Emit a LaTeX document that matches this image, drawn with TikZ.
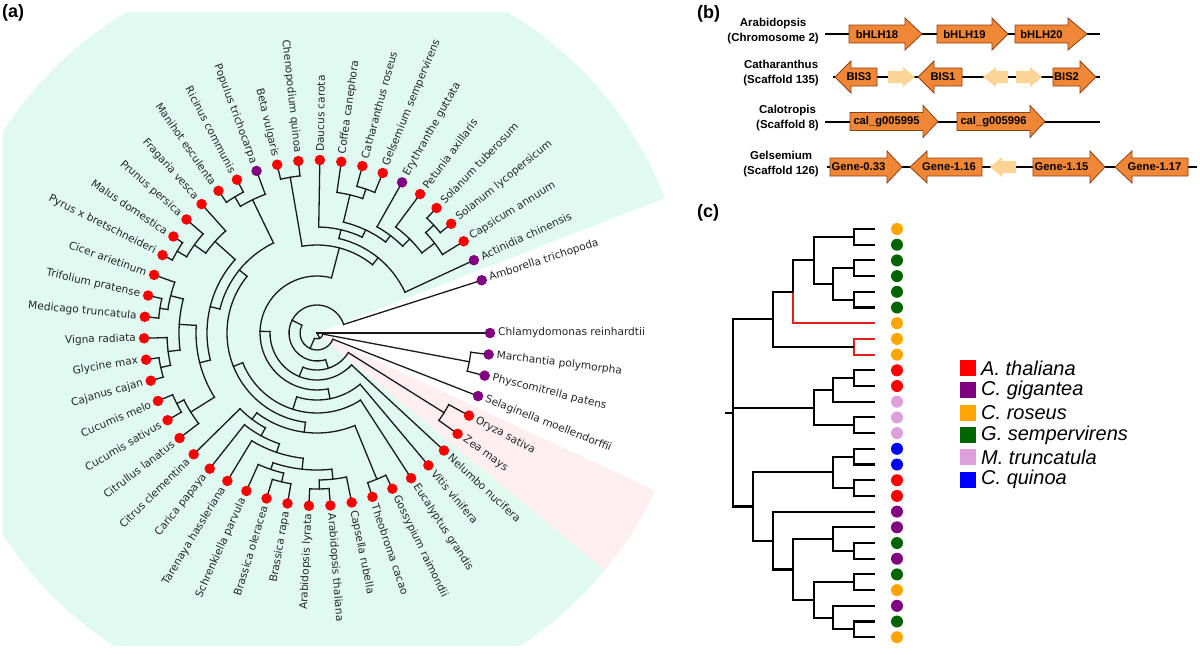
\documentclass[tikz,border=0pt]{standalone}
\usepackage{fontspec}
\setmainfont{Liberation Sans}
\newfontfamily\treefont{DejaVu Sans}
\definecolor{mint}{RGB}{224,250,242}
\definecolor{pinkbg}{RGB}{253,238,239}
\definecolor{dred}{RGB}{250,0,0}
\definecolor{dpur}{RGB}{128,0,128}
\definecolor{geneorange}{RGB}{240,135,55}
\definecolor{geneedge}{RGB}{140,65,20}
\definecolor{genelight}{RGB}{252,213,150}
\definecolor{cred}{RGB}{255,0,0}
\definecolor{cpur}{RGB}{128,0,128}
\definecolor{corange}{RGB}{255,165,0}
\definecolor{cgreen}{RGB}{0,100,0}
\definecolor{cplum}{RGB}{221,160,221}
\definecolor{cblue}{RGB}{0,0,255}
\definecolor{branchred}{RGB}{228,30,30}
\tikzset{
  branch/.style={line width=1.3pt, black!90, line cap=rect},
  leafdot/.style={circle, inner sep=0pt, minimum size=10.5pt, draw=none},
  leaftext/.style={font=\treefont\fontsize{10.6}{12}\selectfont, inner sep=0pt, text=black!85},
  cbranch/.style={line width=2.1pt, black},
  cdot/.style={circle, inner sep=0pt, minimum size=12pt, draw=none},
  genelabel/.style={font=\bfseries\fontsize{11.2}{13}\selectfont, inner sep=0pt},
  rowlabel/.style={font=\bfseries\fontsize{11.5}{15}\selectfont, inner sep=0pt, align=center, anchor=east},
  panellabel/.style={font=\bfseries\fontsize{18}{20}\selectfont, inner sep=0pt, anchor=west},
  legsq/.style={minimum size=16pt, inner sep=0pt, draw=none},
  legtext/.style={font=\itshape\fontsize{20}{22}\selectfont, inner sep=0pt, anchor=west},
  gline/.style={line width=2pt, black}
}
% circular tree helpers
\newcommand\tn[3]{\coordinate (#1) at ({-7.13*(#2)}:#3);}
\newcommand\jn[5]{%
  \draw[branch] ({-7.13*(#2)}:#1) arc[start angle={-7.13*(#2)}, end angle={-7.13*(#3)}, radius=#1pt];
  \draw[branch] ({-7.13*(#2)}:#1) -- (#4);
  \draw[branch] ({-7.13*(#3)}:#1) -- (#5);}
\newcommand\leafR[4]{%
  \node[leafdot, fill=#3] (#1) at ({-7.13*(#2)}:173) {};
  \node[leaftext, anchor=west, rotate={-7.13*(#2)}] (#1t) at ({-7.13*(#2)}:181) {#4};}
\newcommand\leafL[4]{%
  \node[leafdot, fill=#3] (#1) at ({-7.13*(#2)}:173) {};
  \node[leaftext, anchor=east, rotate={-7.13*(#2)+180}] (#1t) at ({-7.13*(#2)}:181) {#4};}
% gene arrows
\newcommand\garR[6]{% name x0 xb x1 y text
  \draw[geneedge, fill=geneorange, line width=0.8pt, line join=miter]
    ({#2},{#5-9}) -- ({#3},{#5-9}) -- ({#3},{#5-16}) -- ({#4},{#5}) -- ({#3},{#5+16}) -- ({#3},{#5+9}) -- ({#2},{#5+9}) -- cycle;
  \node[genelabel] (#1) at ({(#2+#3)/2},{#5}) {#6};}
\newcommand\garL[6]{% name tip xb x0 y text
  \draw[geneedge, fill=geneorange, line width=0.8pt, line join=miter]
    ({#4},{#5-9}) -- ({#3},{#5-9}) -- ({#3},{#5-16}) -- ({#2},{#5}) -- ({#3},{#5+16}) -- ({#3},{#5+9}) -- ({#4},{#5+9}) -- cycle;
  \node[genelabel] (#1) at ({(#2+#4)/2+3},{#5}) {#6};}
\newcommand\lar[4]{% x0 xb x1 y (direction given by order)
  \fill[genelight] ({#1},{#4-6}) -- ({#2},{#4-6}) -- ({#2},{#4-10}) -- ({#3},{#4}) -- ({#2},{#4+10}) -- ({#2},{#4+6}) -- ({#1},{#4+6}) -- cycle;}
\begin{document}
\begin{tikzpicture}[x=1pt, y=-1pt]
\useasboundingbox (0,0) rectangle (1200,654);
\fill[white] (0,0) rectangle (1200,654);
% ---------------- panel (a) ----------------
\begin{scope}
  \clip (3,12) rectangle (705,645);
  \begin{scope}[shift={(317pt,-333pt)}, y=1pt]
    \fill[mint] (0,0) -- (21.2:373) arc[start angle=21.2, end angle=320.5, radius=373pt] -- cycle;
    \fill[pinkbg] (0,0) -- (-39.5:373) arc[start angle=-39.5, end angle=-25, radius=373pt] -- cycle;
  \end{scope}
\end{scope}
\node[panellabel] (la) at (2,13) {(a)};
\begin{scope}[shift={(317pt,-333pt)}, y=1pt]
  \leafR{L0}{0}{dpur}{Chlamydomonas reinhardtii}
  \leafR{L1}{1}{dpur}{Marchantia polymorpha}
  \leafR{L2}{2}{dpur}{Physcomitrella patens}
  \leafR{L3}{3}{dpur}{Selaginella moellendorffii}
  \leafR{L4}{4}{dred}{Oryza sativa}
  \leafR{L5}{5}{dred}{Zea mays}
  \leafR{L6}{6}{dred}{Nelumbo nucifera}
  \leafR{L7}{7}{dred}{Vitis vinifera}
  \leafR{L8}{8}{dred}{Eucalyptus grandis}
  \leafR{L9}{9}{dred}{Gossypium raimondii}
  \leafR{L10}{10}{dred}{Theobroma cacao}
  \leafR{L11}{11}{dred}{Capsella rubella}
  \leafR{L12}{12}{dred}{Arabidopsis thaliana}
  \leafL{L13}{13}{dred}{Arabidopsis lyrata}
  \leafL{L14}{14}{dred}{Brassica rapa}
  \leafL{L15}{15}{dred}{Brassica oleracea}
  \leafL{L16}{16}{dred}{Schrenkiella parvula}
  \leafL{L17}{17}{dred}{Tarenaya hassleriana}
  \leafL{L18}{18}{dred}{Carica papaya}
  \leafL{L19}{19}{dred}{Citrus clementina}
  \leafL{L20}{20}{dred}{Citrullus lanatus}
  \leafL{L21}{21}{dred}{Cucumis sativus}
  \leafL{L22}{22}{dred}{Cucumis melo}
  \leafL{L23}{23}{dred}{Cajanus cajan}
  \leafL{L24}{24}{dred}{Glycine max}
  \leafL{L25}{25}{dred}{Vigna radiata}
  \leafL{L26}{26}{dred}{Medicago truncatula}
  \leafL{L27}{27}{dred}{Trifolium pratense}
  \leafL{L28}{28}{dred}{Cicer arietinum}
  \leafL{L29}{29}{dred}{Pyrus x bretschneideri}
  \leafL{L30}{30}{dred}{Malus domestica}
  \leafL{L31}{31}{dred}{Prunus persica}
  \leafL{L32}{32}{dred}{Fragaria vesca}
  \leafL{L33}{33}{dred}{Manihot esculenta}
  \leafL{L34}{34}{dred}{Ricinus communis}
  \leafL{L35}{35}{dpur}{Populus trichocarpa}
  \leafL{L36}{36}{dred}{Beta vulgaris}
  \leafL{L37}{37}{dred}{Chenopodium quinoa}
  \leafR{L38}{38}{dred}{Daucus carota}
  \leafR{L39}{39}{dred}{Coffea canephora}
  \leafR{L40}{40}{dred}{Catharanthus roseus}
  \leafR{L41}{41}{dred}{Gelsemium sempervirens}
  \leafR{L42}{42}{dpur}{Erythranthe guttata}
  \leafR{L43}{43}{dred}{Petunia axillaris}
  \leafR{L44}{44}{dred}{Solanum tuberosum}
  \leafR{L45}{45}{dred}{Solanum lycopersicum}
  \leafR{L46}{46}{dred}{Capsicum annuum}
  \leafR{L47}{47}{dpur}{Actinidia chinensis}
  \leafR{L48}{48}{dpur}{Amborella trichopoda}
  % internal nodes
  \coordinate (Root) at (0,0);
  \tn{Emb}{8.77}{6}
  \tn{Bryo}{1.5}{155}
  \tn{Trach}{16.03}{17}
  \tn{Angio}{29.06}{28}
  \tn{Meso}{10.12}{37}
  \tn{Mono}{4.5}{150}
  \tn{Eud}{15.75}{47}
  \tn{Core}{25.49}{57}
  \tn{VR}{11.05}{67}
  \tn{Ros}{15.09}{80}
  \tn{RR}{22.19}{90}
  \tn{Malv}{13.656}{100}
  \tn{Malvales}{9.5}{158}
  \tn{SB}{17.8125}{108}
  \tn{Bra}{16.625}{117}
  \tn{BraT}{15.25}{126}
  \tn{Brass}{13.5}{137}
  \tn{Cap}{11.75}{147}
  \tn{AR}{12.5}{156}
  \tn{Bras}{15.25}{144}
  \tn{BB}{14.5}{153}
  \tn{Fab}{30.72}{100}
  \tn{FabA}{27.19}{110}
  \tn{CL}{23.25}{121}
  \tn{Cuc}{20.75}{149}
  \tn{CucA}{21.5}{157}
  \tn{Leg}{25.75}{138}
  \tn{LegA}{24.25}{150}
  \tn{LegAA}{23.5}{160}
  \tn{LegB}{27.25}{151}
  \tn{LegBB}{26.5}{159}
  \tn{Rosa}{31.125}{137}
  \tn{RosaA}{30.25}{151}
  \tn{RosaAA}{29.5}{162}
  \tn{Malp}{34.25}{148}
  \tn{MalpA}{33.5}{159}
  \tn{CaAs}{39.93}{88}
  \tn{Caryo}{36.5}{158}
  \tn{Ast}{43.35}{97}
  \tn{CoreAst}{39.7}{106}
  \tn{Lam}{41.41}{114}
  \tn{Gent}{39.75}{142}
  \tn{GentA}{40.5}{152}
  \tn{LamS}{43.06}{122}
  \tn{Sol}{44.125}{132}
  \tn{SolA}{45.25}{148}
  \tn{SolAA}{44.5}{159}
  % branches
  \draw[branch] (Root) -- (L0);
  \draw[branch] (Root) -- (Emb);
  \jn{6}{1.5}{16.03}{Bryo}{Trach}
  \jn{155}{1}{2}{L1}{L2}
  \jn{17}{3}{29.06}{L3}{Angio}
  \jn{28}{10.12}{48}{Meso}{L48}
  \jn{37}{4.5}{15.75}{Mono}{Eud}
  \jn{150}{4}{5}{L4}{L5}
  \jn{47}{6}{25.49}{L6}{Core}
  \jn{57}{11.05}{39.93}{VR}{CaAs}
  \jn{67}{7}{15.09}{L7}{Ros}
  \jn{80}{8}{22.19}{L8}{RR}
  \jn{90}{13.656}{30.72}{Malv}{Fab}
  \jn{100}{9.5}{17.8125}{Malvales}{SB}
  \jn{158}{9}{10}{L9}{L10}
  \jn{108}{16.625}{19}{Bra}{L19}
  \jn{117}{15.25}{18}{BraT}{L18}
  \jn{126}{13.5}{17}{Brass}{L17}
  \jn{137}{11.75}{15.25}{Cap}{Bras}
  \jn{147}{11}{12.5}{L11}{AR}
  \jn{156}{12}{13}{L12}{L13}
  \jn{144}{14.5}{16}{BB}{L16}
  \jn{153}{14}{15}{L14}{L15}
  \jn{100}{27.19}{34.25}{FabA}{Malp}
  \jn{110}{23.25}{31.125}{CL}{Rosa}
  \jn{121}{20.75}{25.75}{Cuc}{Leg}
  \jn{149}{20}{21.5}{L20}{CucA}
  \jn{157}{21}{22}{L21}{L22}
  \jn{138}{24.25}{27.25}{LegA}{LegB}
  \jn{150}{23.5}{25}{LegAA}{L25}
  \jn{160}{23}{24}{L23}{L24}
  \jn{151}{26.5}{28}{LegBB}{L28}
  \jn{159}{26}{27}{L26}{L27}
  \jn{137}{30.25}{32}{RosaA}{L32}
  \jn{151}{29.5}{31}{RosaAA}{L31}
  \jn{162}{29}{30}{L29}{L30}
  \jn{148}{33.5}{35}{MalpA}{L35}
  \jn{159}{33}{34}{L33}{L34}
  \jn{88}{36.5}{43.35}{Caryo}{Ast}
  \jn{158}{36}{37}{L36}{L37}
  \jn{97}{39.7}{47}{CoreAst}{L47}
  \jn{106}{38}{41.41}{L38}{Lam}
  \jn{114}{39.75}{43.06}{Gent}{LamS}
  \jn{142}{39}{40.5}{L39}{GentA}
  \jn{152}{40}{41}{L40}{L41}
  \jn{122}{42}{44.125}{L42}{Sol}
  \jn{132}{43}{45.25}{L43}{SolA}
  \jn{148}{44.5}{46}{SolAA}{L46}
  \jn{159}{44}{45}{L44}{L45}
\end{scope}
% ---------------- panel (b) ----------------
\node[panellabel] (lb) at (697,14) {(b)};
\node[rowlabel] (r1) at (819,31) {Arabidopsis\\(Chromosome 2)};
\node[rowlabel] (r2) at (819,73) {Catharanthus\\(Scaffold 135)};
\node[rowlabel] (r3) at (819,118) {Calotropis\\(Scaffold 8)};
\node[rowlabel] (r4) at (819,164) {Gelsemium\\(Scaffold 126)};
\draw[gline] (825,34) -- (1100,34);
\draw[gline] (833,77) -- (1100,77);
\draw[gline] (825,121.5) -- (1100,121.5);
\draw[gline] (827,167) -- (1197,167);
\garR{g18}{849}{905}{922}{34}{bHLH18}
\garR{g19}{937}{992}{1008}{34}{bHLH19}
\garR{g20}{1015}{1068}{1087}{34}{bHLH20}
\garL{bis3}{835}{851}{877}{77}{BIS3}
\lar{888}{903}{915}{77}
\garL{bis1}{918}{934}{962}{77}{BIS1}
\lar{1008}{996}{983}{77}
\lar{1016}{1030}{1042}{77}
\garR{bis2}{1053}{1080}{1096}{77}{BIS2}
\garR{cal1}{850}{923}{938}{121.5}{cal\_g005995}
\garR{cal2}{957}{1030}{1045}{121.5}{cal\_g005996}
\garR{ge033}{830}{887}{902}{167}{Gene-0.33}
\garL{ge116}{910}{927}{982}{167}{Gene-1.16}
\lar{1016}{1002}{990}{167}
\garR{ge115}{1033}{1090}{1105}{167}{Gene-1.15}
\garL{ge117}{1115}{1132}{1188}{167}{Gene-1.17}
% ---------------- panel (c) ----------------
\node[panellabel] (lc) at (697,213) {(c)};
\foreach \k/\col in {0/corange,1/cgreen,2/cgreen,3/cgreen,4/cgreen,5/cgreen,6/corange,7/corange,8/corange,9/cred,10/cred,11/cplum,12/cplum,13/cplum,14/cblue,15/cblue,16/cred,17/cred,18/cpur,19/cpur,20/cgreen,21/cpur,22/cgreen,23/corange,24/cpur,25/cgreen,26/corange}{
  \coordinate (t\k) at (875,{229+15.7*\k});
  \node[cdot, fill=\col] (d\k) at (897,{229+15.7*\k}) {};
}
\coordinate (a01) at (854,236.85);
\coordinate (a23) at (854,268.25);
\coordinate (a45) at (854,299.65);
\coordinate (b25) at (833,283.95);
\coordinate (c05) at (814,260.4);
\coordinate (d06) at (793,291.8);
\coordinate (a78) at (854,346.75);
\coordinate (e08) at (773,319.28);
\coordinate (a910) at (854,378.15);
\coordinate (b911) at (833,389.93);
\coordinate (a1213) at (854,425.25);
\coordinate (c913) at (814,407.59);
\coordinate (a1415) at (854,456.65);
\coordinate (a1617) at (854,488.05);
\coordinate (b1417) at (833,472.35);
\coordinate (a2021) at (854,550.85);
\coordinate (b1921) at (833,539.08);
\coordinate (a2223) at (854,582.25);
\coordinate (a2526) at (854,629.35);
\coordinate (b2426) at (833,617.58);
\coordinate (c2226) at (814,599.9);
\coordinate (d1926) at (793,569.5);
\coordinate (e1826) at (773,540.55);
\coordinate (f1426) at (753,506.45);
\coordinate (croot) at (733,412.9);
\coordinate (cstub) at (725,412.9);
\begin{scope}[cbranch, line join=miter]
  \draw (a01) |- (t0); \draw (a01) |- (t1);
  \draw (a23) |- (t2); \draw (a23) |- (t3);
  \draw (a45) |- (t4); \draw (a45) |- (t5);
  \draw (b25) |- (a23); \draw (b25) |- (a45);
  \draw (c05) |- (a01); \draw (c05) |- (b25);
  \draw (d06) |- (c05);
  \draw[branchred] (d06) |- (t6);
  \draw[branchred] (a78) |- (t7); \draw[branchred] (a78) |- (t8);
  \draw (e08) |- (d06); \draw (e08) |- (a78);
  \draw (a910) |- (t9); \draw (a910) |- (t10);
  \draw (b911) |- (a910); \draw (b911) |- (t11);
  \draw (a1213) |- (t12); \draw (a1213) |- (t13);
  \draw (c913) |- (b911); \draw (c913) |- (a1213);
  \draw (a1415) |- (t14); \draw (a1415) |- (t15);
  \draw (a1617) |- (t16); \draw (a1617) |- (t17);
  \draw (b1417) |- (a1415); \draw (b1417) |- (a1617);
  \draw (a2021) |- (t20); \draw (a2021) |- (t21);
  \draw (b1921) |- (t19); \draw (b1921) |- (a2021);
  \draw (a2223) |- (t22); \draw (a2223) |- (t23);
  \draw (a2526) |- (t25); \draw (a2526) |- (t26);
  \draw (b2426) |- (t24); \draw (b2426) |- (a2526);
  \draw (c2226) |- (a2223); \draw (c2226) |- (b2426);
  \draw (d1926) |- (b1921); \draw (d1926) |- (c2226);
  \draw (e1826) |- (t18); \draw (e1826) |- (d1926);
  \draw (f1426) |- (b1417); \draw (f1426) |- (e1826);
  \draw (croot) |- (e08); \draw (croot) |- (c913); \draw (croot) |- (f1426);
  \draw (cstub) -- (croot);
\end{scope}
% legend
\foreach \i/\col/\txt in {0/cred/A. thaliana,1/cpur/C. gigantea,2/corange/C. roseus,3/cgreen/G. sempervirens,4/cplum/M. truncatula,5/cblue/C. quinoa}{
  \node[legsq, fill=\col] (sq\i) at (968,{368+22.3*\i}) {};
  \node[legtext] (lt\i) at (981,{368+22.3*\i}) {\txt};
}
\end{tikzpicture}
\end{document}
